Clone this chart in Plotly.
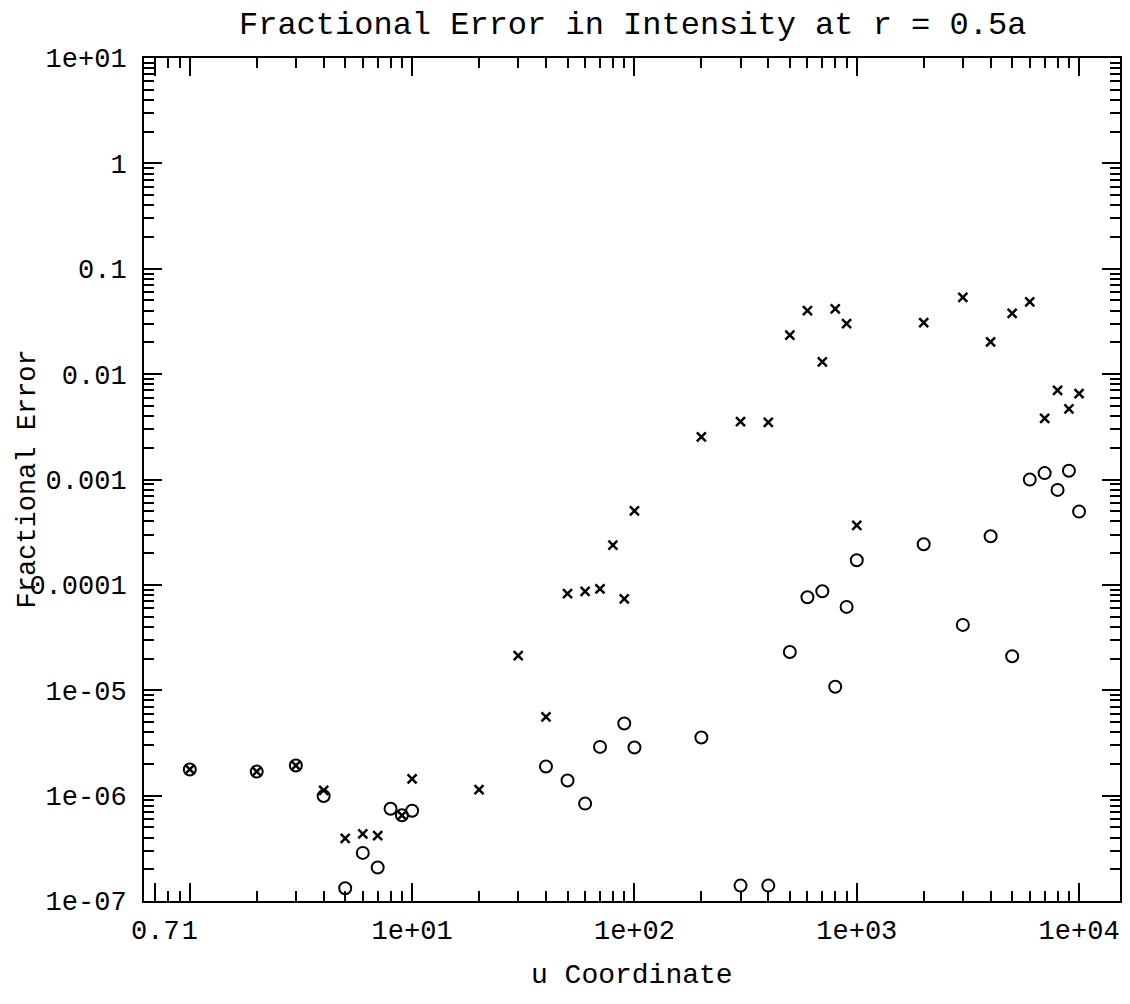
import plotly.graph_objects as go

# ---- data ----
u_cross = [1, 2, 3, 4, 5, 6, 7, 9, 10, 20, 30, 40, 50, 60, 70, 80, 90, 100,
           200, 300, 400, 500, 600, 700, 800, 900, 1000,
           2000, 3000, 4000, 5000, 6000, 7000, 8000, 9000, 10000]
err_cross = [1.77e-6, 1.69e-6, 1.93e-6, 1.12e-6, 3.92e-7, 4.34e-7, 4.18e-7, 6.5e-7, 1.44e-6,
             1.14e-6, 2.13e-5, 5.6e-6, 8.26e-5, 8.69e-5, 9.16e-5, 2.38e-4, 7.36e-5, 5.04e-4,
             2.54e-3, 3.54e-3, 3.49e-3, 2.35e-2, 4.0e-2, 1.31e-2, 4.16e-2, 3.01e-2, 3.67e-4,
             3.08e-2, 5.35e-2, 2.02e-2, 3.77e-2, 4.84e-2, 3.81e-3, 7.02e-3, 4.68e-3, 6.53e-3]

u_circle = [1, 2, 3, 4, 5, 6, 7, 8, 9, 10, 40, 50, 60, 70, 90, 100,
            200, 300, 400, 500, 600, 700, 800, 900, 1000,
            2000, 3000, 4000, 5000, 6000, 7000, 8000, 9000, 10000]
err_circle = [1.77e-6, 1.69e-6, 1.93e-6, 0.99e-6, 1.32e-7, 2.86e-7, 2.08e-7, 7.5e-7, 6.5e-7, 7.18e-7,
              1.89e-6, 1.39e-6, 8.4e-7, 2.9e-6, 4.84e-6, 2.86e-6,
              3.56e-6, 1.4e-7, 1.4e-7, 2.31e-5, 7.63e-5, 8.69e-5, 1.08e-5, 6.18e-5, 1.71e-4,
              2.43e-4, 4.17e-5, 2.89e-4, 2.10e-5, 9.98e-4, 1.15e-3, 7.97e-4, 1.21e-3, 4.96e-4]

x_tickvals = [0.7, 1, 10, 100, 1000, 10000]
x_ticktext = ["0.7", "1", "1e+01", "1e+02", "1e+03", "1e+04"]
y_tickvals = [1e-7, 1e-6, 1e-5, 1e-4, 1e-3, 1e-2, 1e-1, 1, 10]
y_ticktext = ["1e-07", "1e-06", "1e-05", "0.0001", "0.001", "0.01", "0.1", "1", "1e+01"]

title_text = "Fractional Error in Intensity at r = 0.5a"
x_title = "u Coordinate"
y_title = "Fractional Error"

FONT = "Liberation Mono"

x_minor = [0.8, 0.9] + [m * 10 ** e for e in range(0, 4) for m in range(2, 10)]
y_minor = [m * 10.0 ** e for e in range(-7, 1) for m in range(2, 10)]

fig = go.Figure()
fig.add_trace(go.Scatter(
    x=u_circle, y=err_circle, mode="markers",
    marker=dict(symbol="circle-open", size=12, color="black", line=dict(width=2, color="black")),
    showlegend=False))
fig.add_trace(go.Scatter(
    x=u_cross, y=err_cross, mode="markers",
    marker=dict(symbol="x-thin-open", size=9, color="black", line=dict(width=2.5, color="black")),
    showlegend=False))

axis_common = dict(
    type="log", showgrid=False, zeroline=False, showline=True, linecolor="black", linewidth=2,
    mirror="allticks", ticks="inside", ticklen=18, tickwidth=2, tickcolor="black",
    tickfont=dict(family=FONT, size=27, color="black"),
)

fig.update_xaxes(
    **axis_common, range=[-0.206, 4.184], tickmode="array", tickvals=x_tickvals, ticktext=x_ticktext,
    ticklabelstandoff=4,
    minor=dict(ticks="inside", ticklen=10, tickwidth=1.5, tickcolor="black", tickvals=x_minor),
)
fig.update_yaxes(
    **axis_common, range=[-7, 1], tickmode="array", tickvals=y_tickvals, ticktext=y_ticktext,
    ticklabelstandoff=10,
    minor=dict(ticks="inside", ticklen=10, tickwidth=1.5, tickcolor="black", tickvals=y_minor),
)

fig.update_layout(
    width=1130, height=1004,
    margin=dict(l=144, r=8, t=58, b=103),
    plot_bgcolor="white", paper_bgcolor="white",
    font=dict(family=FONT, color="black"),
    annotations=[
        dict(text=title_text, xref="paper", yref="paper", x=0.5, y=1, yshift=33,
             showarrow=False, xanchor="center", yanchor="middle",
             font=dict(family=FONT, size=32, color="black")),
        dict(text=x_title, xref="paper", yref="paper", x=0.5, y=0, yshift=-74,
             showarrow=False, xanchor="center", yanchor="middle",
             font=dict(family=FONT, size=28, color="black")),
        dict(text=y_title, xref="paper", yref="paper", x=0, y=0.5, xshift=-117,
             showarrow=False, xanchor="center", yanchor="middle", textangle=-90,
             font=dict(family=FONT, size=27, color="black")),
    ],
)

fig.write_html("out.html")
